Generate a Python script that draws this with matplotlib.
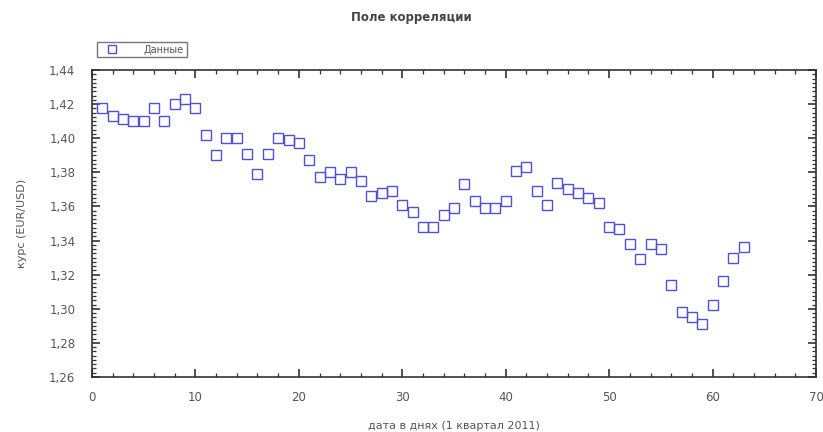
import numpy as np
import matplotlib
matplotlib.use('Agg')
import matplotlib.pyplot as plt
from matplotlib.ticker import MultipleLocator, FuncFormatter

# day number in Q1 2011
days = list(range(1, 64))
# EUR/USD rate
rate = [1.418, 1.413, 1.411, 1.410, 1.410, 1.418, 1.410, 1.420, 1.423, 1.418,
        1.402, 1.390, 1.400, 1.400, 1.391, 1.379, 1.391, 1.400, 1.399, 1.397,
        1.387, 1.377, 1.380, 1.376, 1.380, 1.375, 1.366, 1.368, 1.369, 1.361,
        1.357, 1.348, 1.348, 1.355, 1.359, 1.373, 1.363, 1.359, 1.359, 1.363,
        1.381, 1.383, 1.369, 1.361, 1.374, 1.370, 1.368, 1.365, 1.362, 1.348,
        1.347, 1.338, 1.329, 1.338, 1.335, 1.314, 1.298, 1.295, 1.291, 1.302,
        1.316, 1.330, 1.336]

txt = '#555555'
plt.rcParams['font.family'] = ['DejaVu Sans']

fig = plt.figure(figsize=(8.23, 4.32), dpi=100)
ax = fig.add_axes([92 / 823, 1 - 377 / 432, 724 / 823, 307 / 432])

ax.plot(days, rate, linestyle='none', marker='s', markersize=6.5,
        markerfacecolor='none', markeredgecolor='#5050d8', markeredgewidth=1.0,
        label='Данные')

ax.set_xlim(0, 70)
ax.set_ylim(1.26, 1.44)
ax.xaxis.set_major_locator(MultipleLocator(10))
ax.xaxis.set_minor_locator(MultipleLocator(2))
ax.yaxis.set_major_locator(MultipleLocator(0.02))
ax.yaxis.set_minor_locator(MultipleLocator(0.0025))
ax.yaxis.set_major_formatter(FuncFormatter(lambda v, p: ('%.2f' % v).replace('.', ',')))

ax.tick_params(which='both', direction='in', top=True, right=True, colors='#333333',
               labelcolor=txt, labelsize=8.5)
ax.tick_params(which='major', length=6, width=1.2)
ax.tick_params(axis='x', which='major', pad=10)
ax.tick_params(axis='y', which='major', pad=12)
ax.tick_params(which='minor', length=3, width=0.9)
for s in ax.spines.values():
    s.set_color('#333333')
    s.set_linewidth(1.2)

ax.set_xlabel('дата в днях (1 квартал 2011)', color=txt, fontsize=8, labelpad=12)
ax.set_ylabel('курс (EUR/USD)', color=txt, fontsize=8, labelpad=16)
fig.text(0.5, 1 - 18 / 432, 'Поле корреляции', ha='center', va='center',
         fontsize=8.5, fontweight='bold', color='#444444')

leg = ax.legend(loc='lower left', bbox_to_anchor=(0.0, 1.025), fontsize=7,
                frameon=True, fancybox=False, borderpad=0.3, handletextpad=2.0,
                handlelength=2.5, labelcolor=txt, markerscale=0.8)
leg.get_frame().set_edgecolor('#555555')
leg.get_frame().set_linewidth(1.0)

fig.savefig('out.png', dpi=100)
